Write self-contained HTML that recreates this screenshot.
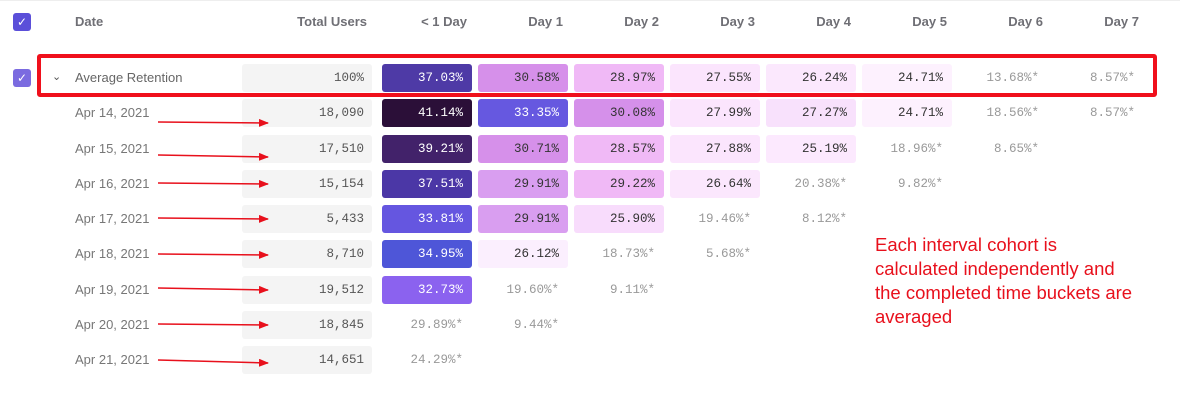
<!DOCTYPE html>
<html><head><style>
body{margin:0;width:1194px;height:409px;background:#fff;position:relative;overflow:hidden;font-family:"Liberation Sans",sans-serif}
.a{position:absolute}
.h{position:absolute;top:14px;font-size:13px;font-weight:bold;color:#6f6f75;text-align:right}
.c{position:absolute;height:28px;width:90px;border-radius:3px;font-family:"Liberation Mono",monospace;font-size:12.5px;line-height:28px;text-align:right;box-sizing:border-box;padding-right:9px;color:#333}
.d{position:absolute;left:75px;font-size:13px;color:#777}
.w{color:#fff}.g{color:#999}
.tu{position:absolute;left:242px;width:130px;height:28px;background:#f4f4f4;border-radius:3px;font-family:"Liberation Mono",monospace;font-size:12.5px;line-height:28px;text-align:right;padding-right:8px;box-sizing:border-box;color:#555}
.cb{position:absolute;left:13px;width:18px;height:18px;background:#5b4fd9;border-radius:3px;color:#fff;font-size:12px;text-align:center;line-height:18px}
</style></head><body>
<div class="a" style="left:0;top:0;width:1180px;height:1px;background:#eee"></div>
<div class="cb" style="top:13px">✓</div>
<div class="h" style="left:75px">Date</div>
<div class="h" style="left:260px;width:107px">Total Users</div>
<div class="h" style="left:382px;width:85px">&lt; 1 Day</div>
<div class="h" style="left:478px;width:85px">Day 1</div>
<div class="h" style="left:574px;width:85px">Day 2</div>
<div class="h" style="left:670px;width:85px">Day 3</div>
<div class="h" style="left:766px;width:85px">Day 4</div>
<div class="h" style="left:862px;width:85px">Day 5</div>
<div class="h" style="left:958px;width:85px">Day 6</div>
<div class="h" style="left:1054px;width:85px">Day 7</div>

<div class="cb" style="top:69px;background:#7b6be0">✓</div>
<div class="a" style="left:52px;top:70px;font-size:11px;color:#555">⌄</div>
<div class="d" style="top:70px;color:#666">Average Retention</div>
<div class="tu" style="top:64px">100%</div>

<div id="rows"></div>
<svg class="a" style="left:0;top:0" width="1194" height="409">
<defs><marker id="m" markerWidth="10" markerHeight="8" refX="9" refY="4" orient="auto" markerUnits="userSpaceOnUse"><path d="M0,0L10,4L0,8z" fill="#e8101c"/></marker></defs>
<g stroke="#e8101c" stroke-width="1.5" marker-end="url(#m)">
<line x1="158" y1="122" x2="268" y2="123"/>
<line x1="158" y1="155" x2="268" y2="157"/>
<line x1="158" y1="183" x2="268" y2="184"/>
<line x1="158" y1="218" x2="268" y2="219"/>
<line x1="158" y1="254" x2="268" y2="255"/>
<line x1="158" y1="288" x2="268" y2="290"/>
<line x1="158" y1="324" x2="268" y2="325"/>
<line x1="158" y1="360" x2="268" y2="363"/>
</g>
</svg>
<div class="a" style="left:875px;top:233px;font-size:18.5px;line-height:24px;color:#e8101c">Each interval cohort is<br>calculated independently and<br>the completed time buckets are<br>averaged</div>
<div class="a" style="left:37px;top:54px;width:1120px;height:43px;border:4px solid #f0101c;border-radius:3px;box-sizing:border-box"></div>
<script>
var X=[382,478,574,670,766,862,958,1054];
var R=[
[78,null,null,[["37.03%","#4e3aa6",1],["30.58%","#d690ea"],["28.97%","#f0b9f6"],["27.55%","#fbe5fd"],["26.24%","#fbe8fd"],["24.71%","#fdf1fe"],["13.68%*"],["8.57%*"]]],
[113,"Apr 14, 2021","18,090",[["41.14%","#2b0f38",1],["33.35%","#6658e0",1],["30.08%","#d590ea"],["27.99%","#fbe5fd"],["27.27%","#f8e1fc"],["24.71%","#fdf1fe"],["18.56%*"],["8.57%*"]]],
[149,"Apr 15, 2021","17,510",[["39.21%","#42226a",1],["30.71%","#d690ea"],["28.57%","#f0b9f6"],["27.88%","#fbe5fd"],["25.19%","#fce9fe"],["18.96%*"],["8.65%*"]]],
[184,"Apr 16, 2021","15,154",[["37.51%","#4b37a6",1],["29.91%","#d99ef0"],["29.22%","#f0b9f6"],["26.64%","#fbe7fd"],["20.38%*"],["9.82%*"]]],
[219,"Apr 17, 2021","5,433",[["33.81%","#6556e0",1],["29.91%","#d99ef0"],["25.90%","#f8dcfc"],["19.46%*"],["8.12%*"]]],
[254,"Apr 18, 2021","8,710",[["34.95%","#4e56d8",1],["26.12%","#fbeffe"],["18.73%*"],["5.68%*"]]],
[290,"Apr 19, 2021","19,512",[["32.73%","#8b62ef",1],["19.60%*"],["9.11%*"]]],
[325,"Apr 20, 2021","18,845",[["29.89%*"],["9.44%*"]]],
[360,"Apr 21, 2021","14,651",[["24.29%*"]]]];
var h="";
R.forEach(function(r){var t=r[0]-14;
if(r[1])h+='<div class="d" style="top:'+(t+6)+'px">'+r[1]+'</div><div class="tu" style="top:'+t+'px">'+r[2]+'</div>';
r[3].forEach(function(c,i){h+='<div class="c'+(c[2]?' w':'')+(c[1]?'':' g')+'" style="left:'+X[i]+'px;top:'+t+'px;'+(c[1]?'background:'+c[1]:'')+'">'+c[0]+'</div>';});});
document.getElementById('rows').innerHTML=h;
</script>
</body></html>
